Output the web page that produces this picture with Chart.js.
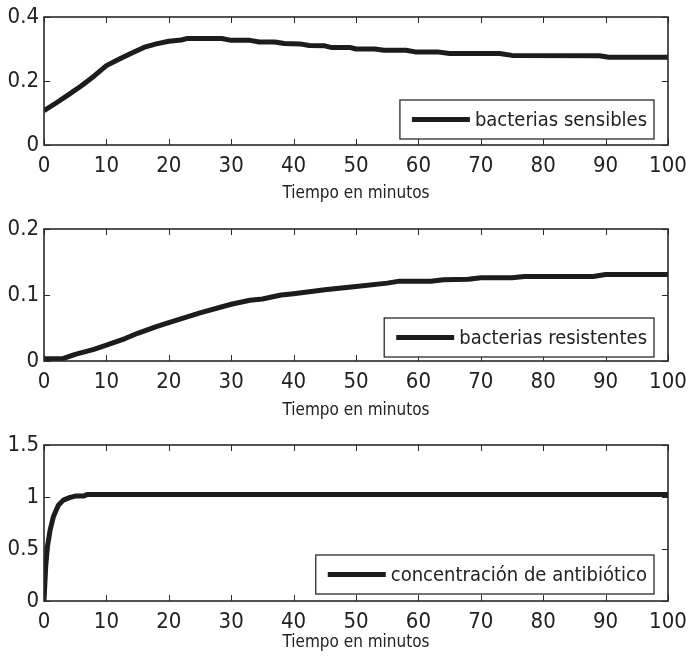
<!DOCTYPE html>
<html>
<head>
<meta charset="utf-8">
<script src="https://cdn.jsdelivr.net/npm/chart.js@4.4.1/dist/chart.umd.min.js"></script>
<style>
  body { margin: 0; background: #fff; }
  .wrap { position: absolute; left: 0; width: 688px; }
</style>
</head>
<body>
<div class="wrap" style="top:0;height:204px"><canvas id="c1"></canvas></div>
<div class="wrap" style="top:204px;height:217px"><canvas id="c2"></canvas></div>
<div class="wrap" style="top:421px;height:236px"><canvas id="c3"></canvas></div>
<script>
// tick labels
const xTicks = [0, 10, 20, 30, 40, 50, 60, 70, 80, 90, 100];
const yTicks1 = [0, 0.2, 0.4];
const yTicks2 = [0, 0.1, 0.2];
const yTicks3 = [0, 0.5, 1, 1.5];

// bacterias sensibles
const tSens = [0, 2, 4, 6, 8, 10, 12, 14, 16, 18, 20, 22, 23, 28.5, 30, 33, 34.5, 37, 38.5, 41, 42.5, 45, 46, 49, 50, 53, 54.5, 58, 59.5, 63, 65, 73, 75, 89, 90.5, 100];
const vSens = [0.107, 0.132, 0.158, 0.185, 0.215, 0.248, 0.268, 0.287, 0.305, 0.316, 0.324, 0.328, 0.333, 0.333, 0.327, 0.327, 0.322, 0.322, 0.317, 0.316, 0.311, 0.31, 0.305, 0.305, 0.3, 0.3, 0.296, 0.296, 0.291, 0.291, 0.286, 0.286, 0.28, 0.279, 0.274, 0.274];

// bacterias resistentes
const tRes = [0, 3, 5, 8, 10, 13, 15, 18, 20, 25, 30, 33, 35, 38, 40, 45, 50, 55, 57, 62, 64, 68, 70, 75, 77, 88, 90, 100];
const vRes = [0.0035, 0.0035, 0.01, 0.0176, 0.024, 0.034, 0.042, 0.052, 0.058, 0.073, 0.086, 0.092, 0.094, 0.1, 0.102, 0.108, 0.113, 0.118, 0.121, 0.121, 0.123, 0.124, 0.126, 0.126, 0.128, 0.128, 0.131, 0.131];

// concentracion de antibiotico
const tAnti = [0, 0.27, 0.54, 0.97, 1.5, 2.3, 3.1, 4.2, 5, 6.3, 7, 100];
const vAnti = [0, 0.33, 0.52, 0.68, 0.81, 0.92, 0.97, 0.996, 1.009, 1.009, 1.025, 1.025];

const FONT = "'Liberation Sans Narrow', 'Arial Narrow', 'DejaVu Sans Condensed', sans-serif";
const INK = '#1c1c1c';

// box, inward ticks and boxed legend, matlab style
const matlabBox = {
    id: 'matlabBox',
    afterDatasetsDraw(chart, args, opts) {
        const ctx = chart.ctx;
        const a = chart.chartArea;
        const xs = chart.scales.x, ys = chart.scales.y;
        ctx.save();
        ctx.strokeStyle = '#2a2a2a';
        ctx.lineWidth = 1;
        ctx.beginPath();
        xs.ticks.forEach(t => {
            const px = Math.round(xs.getPixelForValue(t.value)) + 0.5;
            ctx.moveTo(px, a.bottom); ctx.lineTo(px, a.bottom - 6);
            ctx.moveTo(px, a.top); ctx.lineTo(px, a.top + 6);
        });
        ys.ticks.forEach(t => {
            const py = Math.round(ys.getPixelForValue(t.value)) + 0.5;
            ctx.moveTo(a.left, py); ctx.lineTo(a.left + 6, py);
            ctx.moveTo(a.right, py); ctx.lineTo(a.right - 6, py);
        });
        ctx.stroke();
        ctx.lineWidth = 1.6;
        ctx.strokeRect(a.left, a.top, a.right - a.left, a.bottom - a.top);

        // legend
        const ds = chart.data.datasets[0];
        ctx.font = opts.fontSize + 'px ' + FONT;
        const tw = ctx.measureText(ds.label).width;
        const w = 12 + 58 + 5 + tw + 7;
        const right = a.right - opts.right;
        const bottom = a.bottom - opts.bottom;
        const left = right - w, top = bottom - opts.height;
        ctx.fillStyle = '#fff';
        ctx.fillRect(left, top, w, opts.height);
        ctx.lineWidth = 1.3;
        ctx.strokeStyle = '#2a2a2a';
        ctx.strokeRect(left, top, w, opts.height);
        const cy = top + opts.height / 2;
        ctx.strokeStyle = INK;
        ctx.lineWidth = 5;
        ctx.beginPath();
        ctx.moveTo(left + 12, cy); ctx.lineTo(left + 70, cy);
        ctx.stroke();
        ctx.fillStyle = '#222';
        ctx.textBaseline = 'middle';
        ctx.fillText(ds.label, left + 75, cy + 1);
        ctx.restore();
    }
};

function makeChart(id, label, ts, vs, yTicks, xAxisH, padTop, padBottom, legendBottom) {
    const yMax = yTicks[yTicks.length - 1];
    return new Chart(document.getElementById(id), {
        type: 'line',
        data: {
            datasets: [{
                label: label,
                data: ts.map((t, i) => ({ x: t, y: vs[i] })),
                borderColor: INK,
                borderWidth: 5,
                pointRadius: 0,
                tension: 0,
                borderJoinStyle: 'round'
            }]
        },
        options: {
            responsive: true,
            maintainAspectRatio: false,
            animation: false,
            layout: { padding: { top: padTop, left: 0, right: 20, bottom: padBottom } },
            plugins: {
                legend: { display: false },
                tooltip: { enabled: false },
                matlabBox: { right: 14, bottom: legendBottom, height: 39, fontSize: 20 }
            },
            scales: {
                x: {
                    type: 'linear',
                    min: 0, max: 100,
                    afterBuildTicks: s => { s.ticks = xTicks.map(v => ({ value: v })); },
                    afterFit: s => { s.height = xAxisH; s.paddingLeft = 0; s.paddingRight = 0; },
                    grid: { display: false, drawTicks: false },
                    border: { display: false },
                    ticks: { color: '#222', padding: 8, maxRotation: 0, font: { family: FONT, size: 22 } },
                    title: {
                        display: true,
                        text: 'Tiempo en minutos',
                        color: '#222',
                        padding: 0,
                        font: { family: FONT, size: 17, lineHeight: 1.2 }
                    }
                },
                y: {
                    min: 0, max: yMax,
                    afterBuildTicks: s => { s.ticks = yTicks.map(v => ({ value: v })); },
                    afterFit: s => { s.width = 44; s.paddingTop = 0; s.paddingBottom = 0; },
                    grid: { display: false, drawTicks: false },
                    border: { display: false },
                    ticks: { color: '#222', padding: 5, font: { family: FONT, size: 22 }, callback: v => String(v) }
                }
            }
        },
        plugins: [matlabBox]
    });
}

makeChart('c1', 'bacterias sensibles', tSens, vSens, yTicks1, 59, 17, 0, 6);
makeChart('c2', 'bacterias resistentes', tRes, vRes, yTicks2, 60, 25, 0, 4);
makeChart('c3', 'concentración de antibiótico', tAnti, vAnti, yTicks3, 52, 24, 4, 7);
</script>
</body>
</html>
